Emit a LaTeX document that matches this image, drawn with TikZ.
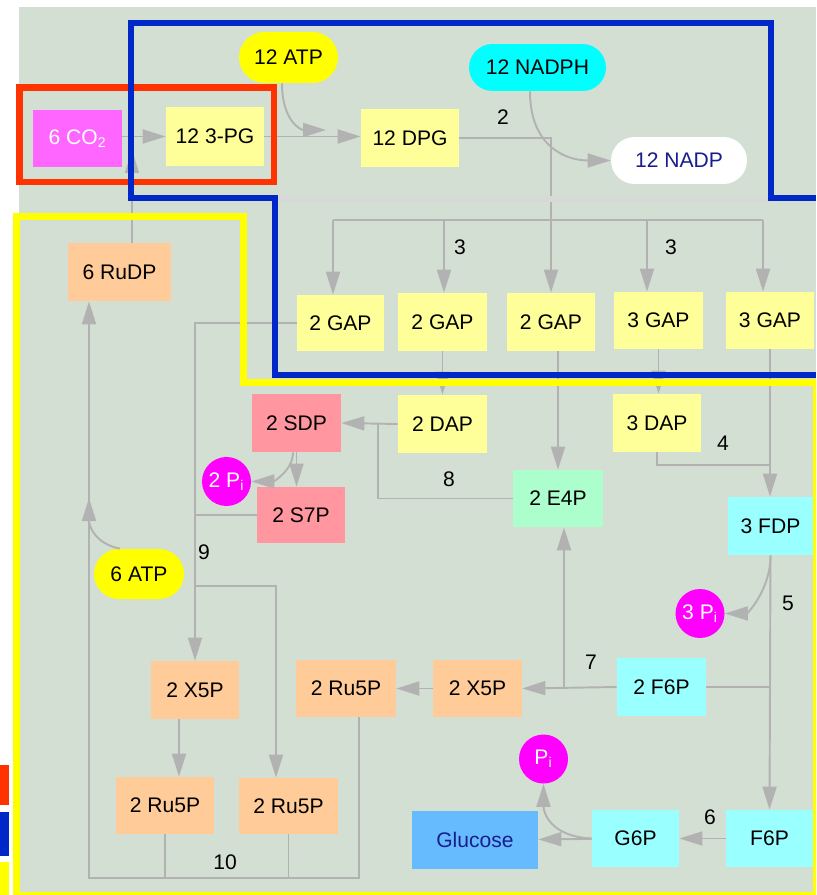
\documentclass[tikz,border=0pt]{standalone}
\usepackage{fontspec}
\setmainfont{Liberation Sans}
\usetikzlibrary{arrows.meta}

\definecolor{panel}{RGB}{212,223,211}
\definecolor{linegray}{RGB}{178,178,178}
\definecolor{bargray}{RGB}{216,216,216}
\definecolor{lemon}{RGB}{255,255,153}
\definecolor{peach}{RGB}{255,204,153}
\definecolor{salmon}{RGB}{255,150,160}
\definecolor{paleaqua}{RGB}{153,255,255}
\definecolor{aqua}{RGB}{0,255,255}
\definecolor{mint}{RGB}{172,255,204}
\definecolor{skyblue}{RGB}{102,187,255}
\definecolor{orchid}{RGB}{255,102,255}
\definecolor{phosph}{RGB}{255,0,255}
\definecolor{navytext}{RGB}{25,30,140}
\definecolor{redframe}{RGB}{255,51,0}
\definecolor{blueframe}{RGB}{0,40,200}
\definecolor{yellowframe}{RGB}{255,255,0}

\begin{document}
\begin{tikzpicture}[x=0.02cm, y=-0.02cm,
    every node/.style={font=\fontsize{12}{14}\selectfont},
    box/.style={rectangle, inner sep=0pt, minimum width=1.76cm, minimum height=1.14cm},
    pill/.style={rectangle, rounded corners=0.47cm, inner sep=0pt, minimum height=0.94cm},
    pdot/.style={circle, inner sep=0pt, minimum size=0.98cm, fill=phosph, text=white},
    flow/.style={draw=linegray, line width=1.1pt},
    arr/.style={flow, -{Triangle[length=0.46cm, width=0.28cm]}},
    num/.style={inner sep=0pt}]
  \useasboundingbox (0,0) rectangle (816,895);
  \clip (0,0) rectangle (816,895);
  \fill [white] (0,0) rectangle (816,895);
  \fill [panel] (19,7) rectangle (816,895);
  \fill [redframe] (0,765) rectangle (9,805);
  \fill [blueframe] (0,812) rectangle (9,856);
  \fill [yellowframe] (0,862) rectangle (9,895);

  \node [box, fill=orchid, text=white, minimum width=1.78cm] (co2) at (77.5,138.5) { 6 CO\textsubscript{2} };
  \node [box, fill=lemon, minimum width=1.96cm, minimum height=1.18cm] (pga) at (215,136.5) { 12 3-PG };
  \node [box, fill=lemon, minimum width=1.96cm, minimum height=1.16cm] (dpg) at (410,138) { 12 DPG };
  \node [pill, fill=yellowframe, minimum width=1.98cm, minimum height=1.02cm, rounded corners=0.51cm] (atpa) at (288.5,57.5) { 12 ATP };
  \node [pill, fill=aqua, minimum width=2.74cm] (nadph) at (537.5,67.5) { 12 NADPH };
  \node [pill, fill=white, text=navytext, minimum width=2.72cm] (nadp) at (679,160.5) { 12 NADP };
  \node [box, fill=peach, minimum width=2.06cm, minimum height=1.16cm] (rudp) at (119.5,272) { 6 RuDP };

  \node [box, fill=lemon, minimum width=1.74cm, minimum height=1.12cm] (gapa) at (340.5,323) { 2 GAP };
  \node [box, fill=lemon, minimum width=1.78cm, minimum height=1.16cm] (gapb) at (442.5,322) { 2 GAP };
  \node [box, fill=lemon, minimum height=1.16cm] (gapc) at (551,322) { 2 GAP };
  \node [box, fill=lemon, minimum width=1.78cm] (gapd) at (658.5,320.5) { 3 GAP };
  \node [box, fill=lemon] (gape) at (770,320.5) { 3 GAP };

  \node [box, fill=lemon, minimum width=1.78cm, minimum height=1.16cm] (dapa) at (442.5,424) { 2 DAP };
  \node [box, fill=lemon, minimum height=1.16cm] (dapb) at (657,423) { 3 DAP };
  \node [box, fill=salmon, minimum width=1.78cm, minimum height=1.16cm] (sdp) at (296.5,423) { 2 SDP };
  \node [box, fill=salmon, minimum height=1.12cm] (s7p) at (301,515) { 2 S7P };
  \node [pdot] (pia) at (226.5,481.5) { 2 P\textsubscript{i} };
  \node [box, fill=mint, minimum width=1.80cm] (e4p) at (558,498.5) { 2 E4P };
  \node [box, fill=paleaqua, minimum width=1.70cm, minimum height=1.16cm] (fdp) at (770.5,526) { 3 FDP };
  \node [pdot] (pib) at (700,613.5) { 3 P\textsubscript{i} };
  \node [pill, fill=yellowframe, minimum width=1.80cm, minimum height=1.0cm, rounded corners=0.5cm] (atpb) at (139,574) { 6 ATP };

  \node [box, fill=peach, minimum height=1.16cm] (xb) at (195,690) { 2 X5P };
  \node [box, fill=peach, minimum width=2.0cm] (rua) at (346,688.5) { 2 Ru5P };
  \node [box, fill=peach, minimum width=1.78cm] (xa) at (477.5,688.5) { 2 X5P };
  \node [box, fill=paleaqua, minimum width=1.78cm, minimum height=1.16cm] (ftwo) at (661.5,687) { 2 F6P };
  \node [box, fill=peach, minimum width=1.96cm] (rub) at (165,805.5) { 2 Ru5P };
  \node [box, fill=peach, minimum width=1.98cm, minimum height=1.12cm] (ruc) at (288.5,806) { 2 Ru5P };

  \node [pdot] (pic) at (543.5,759) { P\textsubscript{i} };
  \node [box, fill=skyblue, text=navytext, minimum width=2.52cm, minimum height=1.16cm] (glc) at (475,840) { Glucose };
  \node [box, fill=paleaqua, minimum width=1.74cm] (g6p) at (635.5,838.5) { G6P };
  \node [box, fill=paleaqua, minimum width=1.74cm] (ffp) at (769.5,838.5) { F6P };

  \node [num] (ntwo) at (503,117) { 2 };
  \node [num] (nthreea) at (460,247) { 3 };
  \node [num] (nthreeb) at (671,247) { 3 };
  \node [num] (nfour) at (723,443) { 4 };
  \node [num] (neight) at (449,479) { 8 };
  \node [num] (nnine) at (204,552) { 9 };
  \node [num] (nfive) at (788,603) { 5 };
  \node [num] (nseven) at (591,662) { 7 };
  \node [num] (nsix) at (710,817) { 6 };
  \node [num] (nten) at (225,862) { 10 };

  \coordinate (atpin) at (326,130);
  \coordinate (fix) at (132,150);
  \coordinate (raila) at (333,220);
  \coordinate (railb) at (444,220);
  \coordinate (raild) at (647,220);
  \coordinate (raile) at (763,220);
  \coordinate (eight) at (378,424);
  \coordinate (ninefork) at (276,586);
  \coordinate (seven) at (564,687);
  \coordinate (xdrop) at (179,0);
  \coordinate (loopl) at (89,878);
  \coordinate (loopr) at (359,878);
  \coordinate (atpup) at (89,498);

  \draw [arr] (co2.east |- pga.west) -- (pga.west);
  \draw [arr] (pga.east) -- (pga.east -| dpg.west);
  \draw [arr] ([xshift=-0.13cm]atpa.south) .. controls +(0,38) and +(-25,0) .. (atpin);
  \draw [arr] ([xshift=-0.15cm]nadph.south) .. controls +(0,55) and +(-45,0) .. (nadp.west);
  \draw [arr] (dpg.east) -| (gapc.north);
  \draw [flow] (raila) -- (raile);
  \draw [arr] (raila) -- (raila |- gapa.north);
  \draw [arr] (railb) -- (railb |- gapb.north);
  \draw [arr] (raild) -- (raild |- gapd.north);
  \draw [arr] (raile) -- (raile |- gape.north);
  \draw [arr] (fix |- rudp.north) -- (fix);

  \draw [arr] (gapb) -- (dapa);
  \draw [arr] (gapd.south) -- (gapd.south |- dapb.north);
  \draw [arr] (gape.south) -- (gape.south |- fdp.north);
  \draw [arr] (e4p.north |- gapc.south) -- (e4p.north);
  \draw [arr] (gapa.west) -| (xb.north);
  \draw [flow] (s7p.west) -- (s7p.west -| xb.north);
  \draw [arr] (xb.north |- ninefork) -- (ninefork) -- (ninefork |- ruc.north);
  \draw [arr] (dapa.west) -- (sdp.east);
  \draw [flow] (e4p.west) -| (eight);
  \draw [arr] (sdp.south) -- (sdp.south |- s7p.north);
  \draw [arr] ([xshift=-0.07cm]sdp.south) .. controls +(0,18) and +(22,0) .. (pia.east);
  \draw [flow] (dapb.south) |- (gape.south |- 0,465);

  \draw [arr] (fdp.south) .. controls +(0,35) and +(22,0) .. (pib.east);
  \draw [arr] (fdp.south) -- (ffp.north);
  \draw [flow] (ftwo.east) -- (ftwo.east -| fdp.south);
  \draw [arr] (ftwo.west) -- (xa.east);
  \draw [arr] (seven) -- (seven |- e4p.south);
  \draw [arr] (xa) -- (rua);
  \draw [arr] (xb.south -| xdrop) -- (rub.north -| xdrop);

  \draw [arr] (loopr |- rua.south) -- (loopr) -- (loopl) -- (loopl |- rudp.south);
  \draw [flow] (rub.south) -- (rub.south |- loopl);
  \draw [flow] (ruc.south) -- (ruc.south |- loopl);
  \draw [arr] ([xshift=-0.38cm]atpb.north) .. controls +(-25,-5) and +(0,28) .. (atpup);

  \draw [arr] (ffp) -- (g6p);
  \draw [arr] (g6p) -- (glc);
  \draw [arr] (g6p.west) .. controls +(-42,-2) and +(0,28) .. (pic.south);

  \draw [redframe, line width=0.13cm] (19.5,87.5) rectangle (274,182);
  \draw [bargray, line width=0.12cm] (275,199) -- (770,199);
  \draw [yellowframe, line width=0.14cm] (16.5,216.5) -- (243.5,216.5) -- (243.5,382) -- (816,382) -- (816,895) -- (16.5,895) -- cycle;
  \draw [blueframe, line width=0.12cm] (816,198) -- (770.5,198) -- (770.5,23.5) -- (131,23.5) -- (131,198) -- (275,198) -- (275,375) -- (816,375);
\end{tikzpicture}
\end{document}
